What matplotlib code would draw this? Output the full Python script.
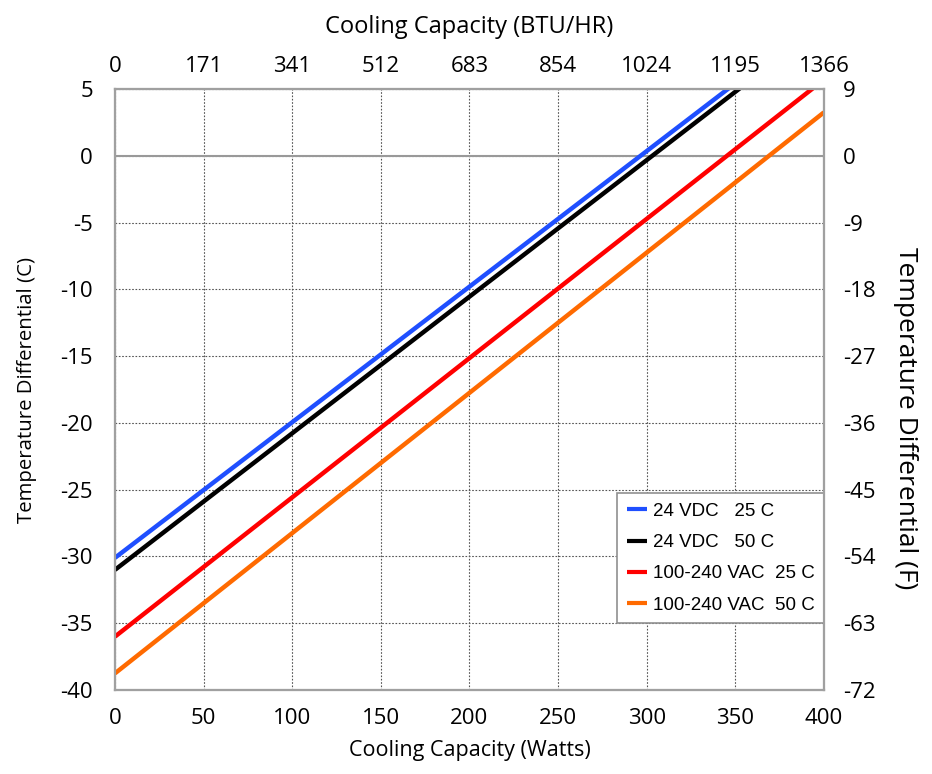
import matplotlib.pyplot as plt

# Data (two end points per line, W vs deg C)
watts = [0, 400]
vdc24_25c = [-30.1, 10.5]
vdc24_50c = [-31.0, 9.9]
vac_25c = [-36.0, 5.7]
vac_50c = [-38.75, 3.25]

series_labels = ['24 VDC   25 C', '24 VDC   50 C', '100-240 VAC  25 C', '100-240 VAC  50 C']
series_colors = ['#1f4fff', '#000000', '#ff0000', '#ff6a00']

x_ticks = [0, 50, 100, 150, 200, 250, 300, 350, 400]
btu_labels = ['0', '171', '341', '512', '683', '854', '1024', '1195', '1366']
y_ticks = [5, 0, -5, -10, -15, -20, -25, -30, -35, -40]
f_labels = ['9', '0', '-9', '-18', '-27', '-36', '-45', '-54', '-63', '-72']

plt.rcParams['font.family'] = ['Open Sans', 'DejaVu Sans']
plt.rcParams['axes.unicode_minus'] = False

fig = plt.figure(figsize=(9.32, 7.74), dpi=100)
ax = fig.add_axes([0.1234, 0.1085, 0.7606, 0.7765])

for ys, lab, col in zip([vdc24_25c, vdc24_50c, vac_25c, vac_50c], series_labels, series_colors):
    ax.plot(watts, ys, color=col, lw=3.2, label=lab, solid_capstyle='butt', zorder=3)

ax.set_xlim(0, 400)
ax.set_ylim(-40, 5)
ax.set_xticks(x_ticks)
ax.set_yticks(y_ticks)
ax.grid(True, linestyle=(0, (1.5, 1.5)), color='#555555', lw=0.8)
ax.axhline(0, color='#999999', lw=1.5, zorder=2)
for s in ax.spines.values():
    s.set_color('#a0a0a0')
    s.set_linewidth(1.5)
ax.tick_params(length=0, labelsize=16, pad=13)
ax.tick_params(axis='y', pad=16)
ax.set_xlabel('Cooling Capacity (Watts)', fontsize=15.5, labelpad=8)
ax.set_ylabel('Temperature Differential (C)', fontsize=14.7, labelpad=17)

# top axis in BTU/HR
top = ax.twiny()
top.set_xlim(ax.get_xlim())
top.set_xticks(x_ticks)
top.set_xticklabels(btu_labels)
top.tick_params(length=0, labelsize=16, pad=9)
top.set_xlabel('Cooling Capacity (BTU/HR)', fontsize=17, labelpad=16)

# right axis in F
right = ax.twinx()
right.set_ylim(ax.get_ylim())
right.set_yticks(y_ticks)
right.set_yticklabels(f_labels)
right.tick_params(length=0, labelsize=16, pad=14)
right.set_ylabel('Temperature Differential (F)', fontsize=19, rotation=270, labelpad=30)
right.yaxis.label.set_y(0.453)
for a in (top, right):
    for s in a.spines.values():
        s.set_color('#a0a0a0')
        s.set_linewidth(1.5)

leg = ax.legend(loc='lower right', bbox_to_anchor=(1.0, 5 / 45), fancybox=False,
                edgecolor='#909090', framealpha=1, handlelength=1.1, handletextpad=0.3,
                borderpad=0.5, labelspacing=0.76, borderaxespad=0,
                prop={'family': ['Liberation Sans', 'DejaVu Sans'], 'size': 13.5})
leg.get_frame().set_linewidth(1.2)
for h in leg.get_lines():
    h.set_linewidth(3)

fig.savefig('out.png', dpi=100)
